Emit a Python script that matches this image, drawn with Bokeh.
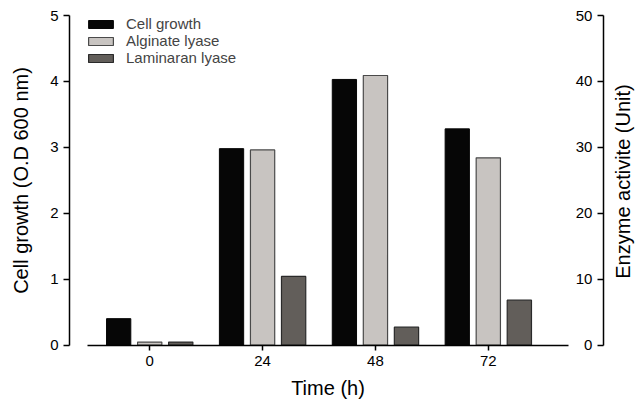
import math
from bokeh.plotting import figure
from bokeh.models import Range1d, LinearAxis, FixedTicker, Legend, LegendItem, Label
from bokeh.embed import file_html
from bokeh.resources import INLINE

# ---- data ----
times = ["0", "24", "48", "72"]                 # Time (h)
cell_growth = [0.40, 2.98, 4.03, 3.28]          # O.D 600 nm (left axis)
alginate_lyase = [0.45, 29.6, 40.9, 28.4]       # Unit (right axis)
laminaran_lyase = [0.45, 10.4, 2.7, 6.8]        # Unit (right axis)
series_names = ["Cell growth", "Alginate lyase", "Laminaran lyase"]
left_ticks = [0, 1, 2, 3, 4, 5]
right_ticks = [0, 10, 20, 30, 40, 50]
x_title = "Time (h)"
left_title = "Cell growth (O.D 600 nm)"
right_title = "Enzyme activite (Unit)"

FONT = "Liberation Sans"
xs = list(range(len(times)))

# the frame covers the whole canvas; axes are pinned at fixed positions
p = figure(width=636, height=399, output_backend="svg", toolbar_location=None,
           x_range=Range1d(-1.322, 4.313), y_range=Range1d(-0.827, 5.228),
           min_border_left=0, min_border_right=0, min_border_top=0,
           min_border_bottom=0, outline_line_color=None)
p.extra_y_ranges = {"enz": Range1d(-8.27, 52.28)}
p.xgrid.visible = False
p.ygrid.visible = False
p.background_fill_color = "white"
p.border_fill_color = "white"

W = 0.215
r1 = p.vbar(x=[x - 0.275 for x in xs], top=cell_growth, width=W,
            fill_color="#060606", line_color="#060606", line_width=1)
r2 = p.vbar(x=[x + 0.0 for x in xs], top=alginate_lyase, width=W,
            y_range_name="enz", fill_color="#c8c4c1", line_color="#4a4a4a", line_width=1.2)
r3 = p.vbar(x=[x + 0.275 for x in xs], top=laminaran_lyase, width=W,
            y_range_name="enz", fill_color="#625e5a", line_color="#2a2a2a", line_width=1.2)

# x axis
xa = p.xaxis[0]
xa.ticker = FixedTicker(ticks=xs)
xa.major_label_overrides = {i: t for i, t in enumerate(times)}
xa.bounds = (-0.55, 3.71)
xa.fixed_location = 0

# left axis
ya = p.yaxis[0]
ya.ticker = FixedTicker(ticks=left_ticks)
ya.bounds = (0, 5)
ya.fixed_location = -0.71

# enzyme axis: drawn at the right end, ticks and labels on its left side
ra = LinearAxis(y_range_name="enz", ticker=FixedTicker(ticks=right_ticks),
                fixed_location=4.02, bounds=(0, 50))
p.add_layout(ra, "left")

for ax in (xa, ya, ra):
    ax.axis_line_width = 1.5
    ax.axis_line_color = "black"
    ax.major_tick_line_width = 1.5
    ax.major_tick_line_color = "black"
    ax.minor_tick_line_color = None
    ax.major_label_text_font = FONT
    ax.major_label_text_font_size = "15px"
    ax.major_label_text_color = "black"

xa.major_tick_out = 5
xa.major_tick_in = 0
xa.major_label_standoff = 6

ya.major_tick_out = 6
ya.major_tick_in = 0
ya.major_label_standoff = 5

ra.major_tick_out = 6
ra.major_tick_in = 0
ra.major_label_standoff = 5

# axis titles
title_style = dict(x_units="screen", y_units="screen", text_font=FONT,
                   text_font_size="20px", text_color="black")
p.add_layout(Label(x=327.5, y=12, text=x_title, text_align="center",
                   text_baseline="alphabetic", **title_style))
p.add_layout(Label(x=20, y=219, text=left_title, angle=math.pi / 2, angle_units="rad",
                   text_align="center", text_baseline="middle", **title_style))
p.add_layout(Label(x=622.5, y=218, text=right_title, angle=math.pi / 2, angle_units="rad",
                   text_align="center", text_baseline="middle", **title_style))

legend = Legend(items=[LegendItem(label=series_names[0], renderers=[r1]),
                       LegendItem(label=series_names[1], renderers=[r2]),
                       LegendItem(label=series_names[2], renderers=[r3])],
                location=(85, 333), glyph_width=31, glyph_height=10,
                label_height=14, label_standoff=10, spacing=0, padding=0, margin=0,
                label_text_font=FONT, label_text_font_size="15px",
                border_line_color=None, background_fill_alpha=0)
p.add_layout(legend, "center")

open("out.html", "w").write(file_html(p, INLINE))
